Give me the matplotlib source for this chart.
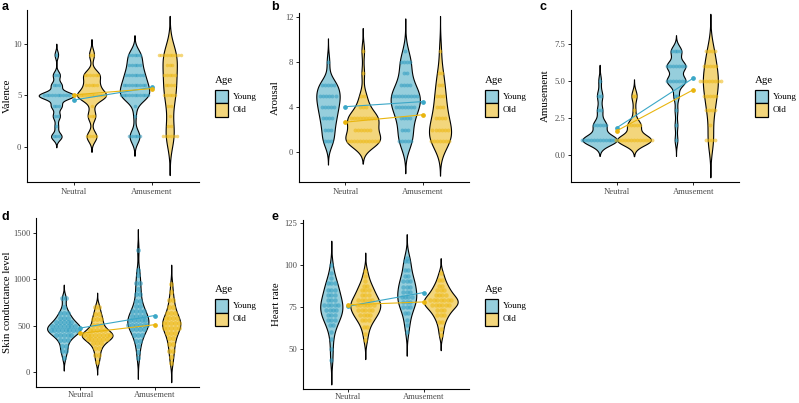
import numpy as np
import matplotlib.pyplot as plt
from matplotlib.patches import Rectangle

W, H = 799, 403
plt.rcParams['font.family'] = ['Liberation Serif', 'DejaVu Serif']

conditions = ['Neutral', 'Amusement']
ages = ['Young', 'Old']

# counts per score (discrete self-report scales)
val_scores = [1, 2, 3, 4, 5, 6, 7, 8, 9]
val_young_neu = [3, 1, 2, 3, 10, 3, 2, 0, 1]
val_old_neu = [4, 0, 3, 1, 11, 5, 6, 0, 2]
val_young_amu = [5, 0, 1, 1, 11, 9, 7, 5, 5]
val_old_amu = [6, 2, 1, 2, 5, 4, 5, 3, 9]

aro_scores = [1, 2, 3, 4, 5, 6, 7, 8, 9]
aro_young_neu = [3, 3, 4, 5, 6, 5, 0, 1, 0]
aro_old_neu = [11, 6, 9, 3, 2, 0, 1, 0, 1]
aro_young_amu = [5, 3, 4, 7, 9, 4, 2, 4, 1]
aro_old_amu = [7, 6, 4, 3, 3, 2, 2, 0, 1]

amu_scores = [1, 2, 3, 4, 5, 6, 7]
amu_young_neu = [13, 5, 2, 2, 1, 0, 0]
amu_old_neu = [13, 5, 1, 2, 0, 0, 0]
amu_young_amu = [1, 1, 1, 2, 7, 7, 4]
amu_old_amu = [4, 1, 4, 5, 8, 5, 4]

# physiological measures
scl_young_neu = [150, 220, 230, 270, 300, 330, 350, 370, 380, 395, 405, 415, 420, 430, 435, 440, 450,
                 455, 460, 465, 470, 475, 480, 485, 490, 500, 510, 515, 520, 530, 540, 550, 560, 575,
                 590, 600, 620, 640, 660, 700, 780, 810]
scl_old_neu = [110, 160, 200, 240, 270, 290, 310, 330, 340, 350, 360, 370, 375, 380, 385, 390, 395,
               400, 405, 410, 415, 420, 430, 440, 450, 460, 470, 490, 510, 530, 550, 570, 590, 610,
               640, 680, 720]
scl_young_amu = [150, 220, 280, 330, 350, 380, 400, 420, 440, 460, 470, 480, 490, 500, 510, 520, 530,
                 530, 540, 550, 560, 570, 580, 590, 600, 610, 620, 640, 650, 660, 680, 700, 720, 750,
                 780, 820, 860, 900, 950, 980, 1050, 1100, 1320]
scl_old_amu = [100, 160, 210, 250, 290, 320, 350, 380, 400, 420, 440, 460, 470, 480, 490, 500, 510,
               520, 530, 540, 550, 560, 570, 580, 600, 620, 640, 660, 690, 720, 760, 800, 860, 950]

hr_young_neu = [43, 50, 56, 60, 63, 65, 66, 67, 68, 69, 70, 71, 72, 72, 73, 74, 75, 75, 76, 76, 77,
                78, 79, 80, 81, 82, 83, 84, 85, 86, 88, 89, 90, 92, 95, 100]
hr_old_neu = [55, 59, 62, 64, 66, 67, 68, 69, 70, 70, 71, 72, 72, 73, 74, 74, 75, 75, 76, 76, 77, 77,
              78, 78, 79, 80, 80, 81, 82, 83, 84, 85, 86, 87, 88, 90, 93, 96]
hr_young_amu = [60, 64, 67, 70, 72, 74, 75, 76, 77, 78, 79, 80, 80, 81, 82, 83, 84, 85, 86, 87, 88,
                89, 90, 91, 92, 94, 96, 98, 101, 103, 104]
hr_old_amu = [58, 62, 65, 67, 69, 70, 71, 72, 73, 74, 75, 75, 76, 76, 77, 77, 78, 78, 78, 79, 79, 80,
              80, 81, 82, 82, 83, 84, 85, 86, 87, 88, 90, 92, 95]

fill_col = {'Young': '#96CEDC', 'Old': '#F3D67C'}
dot_col = {'Young': '#2E9BC0', 'Old': '#EDB70F'}
line_col = {'Young': '#3BA7C7', 'Old': '#E9B50E'}


def expand(scores, counts):
    return np.repeat(np.array(scores, float), counts)


def bw_nrd0(x):
    sd = np.std(x, ddof=1)
    q75, q25 = np.percentile(x, [75, 25])
    lo = min(sd, (q75 - q25) / 1.34)
    if lo <= 0:
        lo = sd
    return 0.9 * lo * len(x) ** -0.2


def kde(x):
    bw = bw_nrd0(x)
    y = np.linspace(x.min() - 3 * bw, x.max() + 3 * bw, 512)
    d = np.exp(-0.5 * ((y[:, None] - x[None, :]) / bw) ** 2).sum(1) / (len(x) * bw * np.sqrt(2 * np.pi))
    return y, d * len(x)  # scaled by count


def dot_bins(x, bw):
    xs = np.sort(x)
    out = []
    i = 0
    while i < len(xs):
        j = i
        while j < len(xs) and xs[j] < xs[i] + bw:
            j += 1
        g = xs[i:j]
        out.append(((g.min() + g.max()) / 2, len(g)))
        i = j
    return out


fig = plt.figure(figsize=(W / 100, H / 100), dpi=100)


def add_ax(x0, y0, x1, y1):
    return fig.add_axes([x0 / W, 1 - y1 / H, (x1 - x0) / W, (y1 - y0) / H])


def panel(box, data, ylim, yticks, yticklabels, ylabel, lab_x, letter, letter_xy, leg_y, xpad=2):
    x0, y0, x1, y1 = box
    ax = add_ax(*box)
    xlim = (0.4, 2.6)
    ax.set_xlim(*xlim)
    ax.set_ylim(*ylim)
    dens = {}
    for age in ages:
        for k in range(2):
            dens[age, k] = kde(data[age][k])
    dmax = max(d.max() for _, d in dens.values())
    allv = np.concatenate([data[a][k] for a in ages for k in range(2)])
    binw = (allv.max() - allv.min()) / 30
    py_per_unit = (y1 - y0) / (ylim[1] - ylim[0])
    step_px = binw * py_per_unit
    diam_px = step_px * 1.3
    step = step_px * (xlim[1] - xlim[0]) / (x1 - x0)
    for age in ages:
        off = -0.225 if age == 'Young' else 0.225
        for k in range(2):
            c = k + 1 + off
            y, d = dens[age, k]
            w = 0.225 * d / dmax
            ax.fill_betweenx(y, c - w, c + w, facecolor=fill_col[age], edgecolor='black',
                             linewidth=0.8, zorder=2)
            xs, ys = [], []
            for yc, n in dot_bins(data[age][k], binw):
                for j in range(n):
                    xs.append(c + (j - (n - 1) / 2) * step)
                    ys.append(yc)
            ax.scatter(xs, ys, s=(diam_px * 0.72) ** 2, color=dot_col[age], alpha=0.55,
                       linewidths=0, zorder=3)
    for age in ages:
        means = [np.mean(data[age][k]) for k in range(2)]
        ax.plot([1, 2], means, color=line_col[age], lw=0.8, marker='o', ms=2.4, zorder=5)
    ax.set_xticks([1, 2])
    ax.set_xticklabels(conditions)
    ax.set_yticks(yticks)
    ax.set_yticklabels(yticklabels)
    for s in ['top', 'right']:
        ax.spines[s].set_visible(False)
    for s in ['left', 'bottom']:
        ax.spines[s].set_linewidth(0.8)
    ax.tick_params(length=2, width=0.6, pad=2, labelsize=6.2, labelcolor='#4D4D4D')
    ax.tick_params(axis='x', pad=xpad)
    ax.text(lab_x, 0.5, ylabel, rotation=90, ha='center', va='center', fontsize=7.8,
            transform=ax.transAxes)
    fig.text(letter_xy[0] / W, 1 - letter_xy[1] / H, letter, fontsize=9, fontweight='bold',
             family='Liberation Sans', va='baseline', ha='left')
    # legend
    lx = x1 + 16
    fig.text(lx / W, 1 - (leg_y - 7) / H, 'Age', fontsize=7.8, va='baseline', ha='left')
    for i, age in enumerate(ages):
        top = leg_y + i * 13.5
        fig.add_artist(Rectangle((lx / W, 1 - (top + 13.5) / H), 12.5 / W, 13.5 / H,
                                 transform=fig.transFigure, facecolor=fill_col[age],
                                 edgecolor='black', linewidth=0.9))
        fig.text((lx + 18) / W, 1 - (top + 6.8) / H, age, fontsize=6.6, va='center', ha='left')
    return ax


val = {'Young': [expand(val_scores, val_young_neu), expand(val_scores, val_young_amu)],
       'Old': [expand(val_scores, val_old_neu), expand(val_scores, val_old_amu)]}
aro = {'Young': [expand(aro_scores, aro_young_neu), expand(aro_scores, aro_young_amu)],
       'Old': [expand(aro_scores, aro_old_neu), expand(aro_scores, aro_old_amu)]}
amu = {'Young': [expand(amu_scores, amu_young_neu), expand(amu_scores, amu_young_amu)],
       'Old': [expand(amu_scores, amu_old_neu), expand(amu_scores, amu_old_amu)]}
scl = {'Young': [np.array(scl_young_neu, float), np.array(scl_young_amu, float)],
       'Old': [np.array(scl_old_neu, float), np.array(scl_old_amu, float)]}
hr = {'Young': [np.array(hr_young_neu, float), np.array(hr_young_amu, float)],
      'Old': [np.array(hr_old_neu, float), np.array(hr_old_amu, float)]}

panel((27, 10, 199, 182), val, (-3.45, 13.35), [0, 5, 10], ['0', '5', '10'], 'Valence',
      -0.116, 'a', (2, 10.5), 90)
panel((299, 13, 469, 182), aro, (-2.63, 12.33), [0, 4, 8, 12], ['0', '4', '8', '12'], 'Arousal',
      -0.141, 'b', (271, 10.5), 90)
panel((571, 10, 739, 182), amu, (-1.84, 9.78), [0, 2.5, 5, 7.5], ['0.0', '2.5', '5.0', '7.5'],
      'Amusement', -0.155, 'c', (540, 10.5), 90)
panel((36, 218, 199, 387), scl, (-161, 1663), [0, 500, 1000, 1500], ['0', '500', '1000', '1500'],
      'Skin conductance level', -0.176, 'd', (2, 219.5), 299, xpad=1.2)
panel((303, 220, 469, 389), hr, (26.0, 126.6), [50, 75, 100, 125], ['50', '75', '100', '125'],
      'Heart rate', -0.158, 'e', (271, 220), 299, xpad=1.2)

fig.savefig('out.png', dpi=100)
